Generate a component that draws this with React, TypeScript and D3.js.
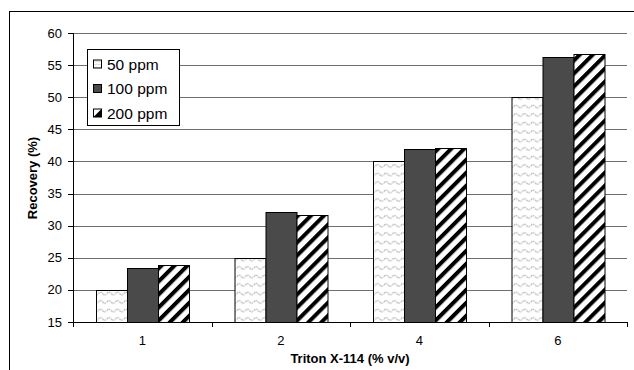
import React from 'react';
import * as d3 from 'd3';

const categories = ['1', '2', '4', '6'];
const seriesNames = ['50 ppm', '100 ppm', '200 ppm'];
const ppm50 = [20, 25, 40, 50];
const ppm100 = [23.4, 32.2, 42, 56.3];
const ppm200 = [23.9, 31.7, 42.1, 56.8];
const yTicks = [15, 20, 25, 30, 35, 40, 45, 50, 55, 60];

const seriesValues = [ppm50, ppm100, ppm200];
const fills = ['url(#wave)', '#4a4a4a', 'url(#stripe)'];
const font = 'Liberation Sans, Arial, sans-serif';

const App = () => {
    const margin = { left: 73, right: 627, top: 33, bottom: 322 };

    // scales
    const x0 = d3.scaleBand().domain(categories).range([margin.left, margin.right]).padding(0);
    const x1 = d3.scaleBand().domain(seriesNames).range([0, x0.bandwidth()]).paddingInner(0).paddingOuter(0.73);
    const y = d3.scaleLinear().domain([15, 60]).range([margin.bottom, margin.top]);

    const boundaries = categories.map(c => x0(c)).concat([margin.right]);

    return (
        <svg width={634} height={370} style={{ position: 'absolute', left: 0, top: 0 }} fontFamily={font}>
            <defs>
                <pattern id="wave" width={8.5} height={8.5} patternUnits="userSpaceOnUse">
                    <rect width={8.5} height={8.5} fill="#fff" />
                    <path d="M0 4.5 Q2.1 1.8 4.25 4.5 T8.5 4.5" fill="none" stroke="#aaa" strokeWidth={1.1} strokeDasharray="1.6 0.8" />
                </pattern>
                <pattern id="stripe" width={9.2} height={9.2} patternUnits="userSpaceOnUse" patternTransform="rotate(45)">
                    <rect width={9.2} height={9.2} fill="#fff" />
                    <rect width={4} height={9.2} fill="#000" />
                </pattern>
                <pattern id="waveSmall" width={4} height={3} patternUnits="userSpaceOnUse">
                    <rect width={4} height={3} fill="#fff" />
                    <path d="M0 1.5 Q1 0.5 2 1.5 T4 1.5" fill="none" stroke="#bbb" strokeWidth={0.6} />
                </pattern>
            </defs>

            {/* outer frame */}
            <rect x={9.5} y={11.5} width={700} height={400} fill="#fff" stroke="#000" />

            {/* gridlines */}
            {yTicks.filter(t => t > 15).map(t => (
                <line key={t} x1={margin.left} x2={margin.right} y1={Math.round(y(t)) + 0.5} y2={Math.round(y(t)) + 0.5} stroke="#6e6e6e" />
            ))}

            {/* bars */}
            {categories.map((c, i) => (
                <g key={c} transform={`translate(${x0(c)},0)`}>
                    {seriesNames.map((s, j) => (
                        <rect key={s}
                            x={Math.round(x1(s)) + 0.5}
                            y={Math.round(y(seriesValues[j][i])) + 0.5}
                            width={Math.round(x1.bandwidth())}
                            height={Math.round(y(15)) - Math.round(y(seriesValues[j][i]))}
                            fill={fills[j]} stroke="#000" strokeWidth={1} />
                    ))}
                </g>
            ))}

            {/* y axis */}
            <line x1={margin.left + 0.5} x2={margin.left + 0.5} y1={margin.top} y2={margin.bottom + 0.5} stroke="#000" />
            {yTicks.map(t => (
                <g key={t}>
                    <line x1={margin.left - 5} x2={margin.left} y1={Math.round(y(t)) + 0.5} y2={Math.round(y(t)) + 0.5} stroke="#000" />
                    <text x={62} y={y(t)} dy="0.35em" textAnchor="end" fontSize={13}>{t}</text>
                </g>
            ))}

            {/* x axis */}
            <line x1={margin.left} x2={margin.right + 1} y1={margin.bottom + 0.5} y2={margin.bottom + 0.5} stroke="#000" />
            {boundaries.map((b, i) => (
                <line key={i} x1={Math.round(b) + 0.5} x2={Math.round(b) + 0.5} y1={margin.bottom} y2={margin.bottom + 5} stroke="#000" />
            ))}
            {categories.map(c => (
                <text key={c} x={x0(c) + x0.bandwidth() / 2} y={345} textAnchor="middle" fontSize={13}>{c}</text>
            ))}

            {/* axis titles */}
            <text x={350} y={363} textAnchor="middle" fontSize={13} fontWeight="bold">Triton X-114 (% v/v)</text>
            <text transform="translate(37,178) rotate(-90)" textAnchor="middle" fontSize={13} fontWeight="bold">Recovery (%)</text>

            {/* legend */}
            <rect x={87.5} y={49.5} width={92} height={76} fill="#fff" stroke="#000" />
            {seriesNames.map((s, j) => {
                const by = 69.5 + j * 24.5;
                return (
                    <g key={s}>
                        {j === 2 ? (
                            <g>
                                <rect x={93.5} y={by - 9.5} width={8} height={8} fill="#fff" stroke="#000" />
                                <path d={`M${101.5} ${by - 9.5} L${101.5} ${by - 1.5} L${93.5} ${by - 1.5} Z`} fill="#000" />
                            </g>
                        ) : (
                            <rect x={93.5} y={by - 9.5} width={8} height={8} fill={j === 0 ? 'url(#waveSmall)' : fills[j]} stroke="#000" />
                        )}
                        <text x={107} y={by} fontSize={15.5}>{s}</text>
                    </g>
                );
            })}
        </svg>
    );
};

export default App;
